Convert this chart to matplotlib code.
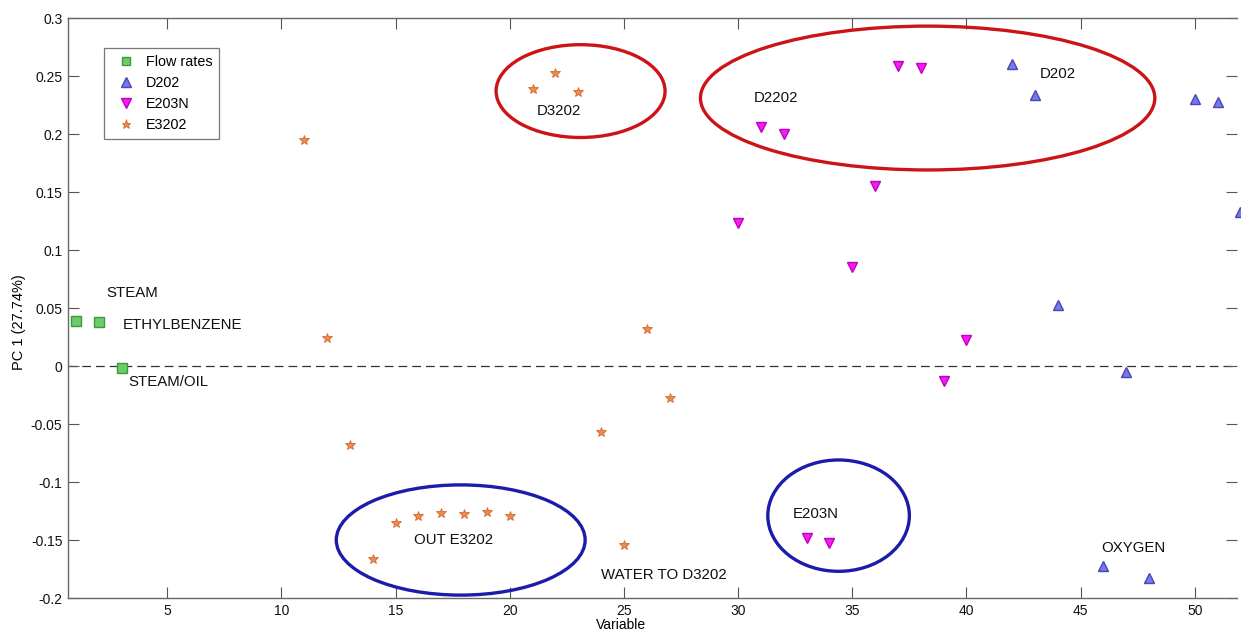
import matplotlib
matplotlib.use("Agg")
import matplotlib.pyplot as plt
from matplotlib.patches import Ellipse

plt.rcParams['font.family'] = ['Liberation Sans', 'DejaVu Sans']

# flow rates (green squares)
flow_x = [1, 2, 3]
flow_y = [0.039, 0.038, -0.002]

# D202 (blue up triangles)
d202_x = [42, 43, 44, 46, 47, 48, 50, 51, 52]
d202_y = [0.260, 0.234, 0.053, -0.172, -0.005, -0.183, 0.230, 0.228, 0.133]

# E203N (magenta down triangles)
e203_x = [30, 31, 32, 33, 34, 35, 36, 37, 38, 39, 40]
e203_y = [0.123, 0.206, 0.200, -0.148, -0.153, 0.085, 0.155, 0.259, 0.257, -0.013, 0.022]

# E3202 (orange stars)
e3202_x = [11, 12, 13, 14, 15, 16, 17, 18, 19, 20, 21, 22, 23, 24, 25, 26, 27]
e3202_y = [0.195, 0.024, -0.068, -0.166, -0.135, -0.129, -0.127, -0.128, -0.126, -0.129,
           0.239, 0.253, 0.236, -0.057, -0.154, 0.032, -0.028]

# text annotations
labels = ["STEAM", "ETHYLBENZENE", "STEAM/OIL", "D3202", "D2202", "D202",
          "OUT E3202", "WATER TO D3202", "E203N", "OXYGEN"]
label_x = [2.35, 3.05, 3.3, 21.2, 30.7, 43.2, 15.8, 24.0, 32.4, 45.9]
label_y = [0.063, 0.035, -0.014, 0.220, 0.231, 0.252, -0.150, -0.180, -0.128, -0.157]

# highlight ellipses: centre x, centre y, width, height, colour
ell_cx = [23.1, 38.3, 17.85, 34.4]
ell_cy = [0.237, 0.231, -0.150, -0.129]
ell_w = [7.4, 19.9, 10.9, 6.2]
ell_h = [0.080, 0.124, 0.095, 0.096]
ell_col = ['#cc1416', '#cc1416', '#1c1caa', '#1c1caa']

fig = plt.figure(figsize=(12.41, 6.33), dpi=100)
ax = fig.add_axes([68 / 1241, 35 / 633, 1169 / 1241, 580 / 633])

ax.axhline(0, color='#333333', linestyle=(0, (7, 4)), linewidth=0.9, zorder=1)

ax.plot(flow_x, flow_y, 's', color='#6acc6a', markeredgecolor='#3a9a3a',
        markersize=6.5, label='Flow rates', clip_on=False, zorder=3)
ax.plot(d202_x, d202_y, '^', color='#7878ee', markeredgecolor='#4848b0',
        markersize=7.5, label='D202', clip_on=False, zorder=3)
ax.plot(e203_x, e203_y, 'v', color='#f01ef0', markeredgecolor='#c000c0',
        markersize=7.5, label='E203N', clip_on=False, zorder=3)
ax.plot(e3202_x, e3202_y, '*', color='#ee8a50', markeredgecolor='#d06a30',
        markersize=7.5, markeredgewidth=0.6, label='E3202', clip_on=False, zorder=3)

for t, x, y in zip(labels, label_x, label_y):
    ax.text(x, y, t, fontsize=10.8, color='#111111', va='center', ha='left')

for cx, cy, w, h, c in zip(ell_cx, ell_cy, ell_w, ell_h, ell_col):
    ax.add_patch(Ellipse((cx, cy), w, h, fill=False, edgecolor=c,
                         linewidth=2.4, zorder=4, clip_on=False))

ax.set_xlim(0.65, 51.85)
ax.set_ylim(-0.2, 0.3)
ax.set_xticks([5, 10, 15, 20, 25, 30, 35, 40, 45, 50])
ax.set_yticks([-0.2, -0.15, -0.1, -0.05, 0, 0.05, 0.1, 0.15, 0.2, 0.25, 0.3])
ax.set_yticklabels(['-0.2', '-0.15', '-0.1', '-0.05', '0', '0.05', '0.1',
                    '0.15', '0.2', '0.25', '0.3'])
ax.tick_params(direction='in', length=8, width=0.8, top=True, right=True,
               labelsize=10, colors='#555555', labelcolor='#111111', pad=4)
for s in ax.spines.values():
    s.set_color('#666666')
    s.set_linewidth(1.0)
ax.spines['right'].set_visible(False)

ax.set_xlabel('Variable', fontsize=10)
ax.set_ylabel('PC 1 (27.74%)', fontsize=10.5)
ax.xaxis.set_label_coords(0.473, -0.035)
ax.yaxis.set_label_coords(-0.036, 0.476)

leg = ax.legend(loc='upper left', bbox_to_anchor=(0.031, 0.948), numpoints=1,
                fontsize=10.4, fancybox=False, edgecolor='#555555', borderaxespad=0,
                borderpad=0.45, handlelength=2.1, handletextpad=0.35, labelspacing=0.5,
                markerscale=0.9)
leg.get_frame().set_linewidth(0.9)

fig.savefig('out.png', dpi=100)
